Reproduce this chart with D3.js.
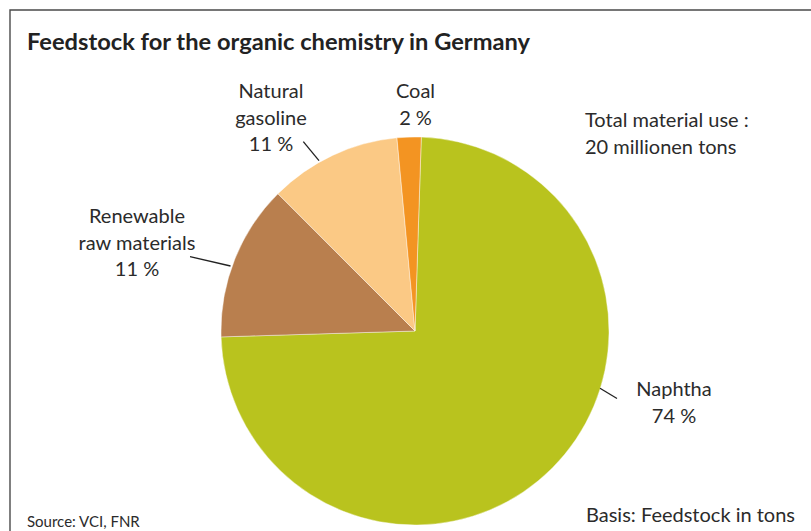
<!DOCTYPE html>
<html><head><meta charset="utf-8">
<script src="https://cdn.jsdelivr.net/npm/d3@7"></script>
<style>html,body{margin:0;padding:0;background:#fff;}svg{display:block;}</style>
</head><body>
<svg id="chart" width="811" height="531"></svg>
<script>
const categories = ["Naphtha", "Renewable raw materials", "Natural gasoline", "Coal"];
const values = [74, 13, 11, 2];
const pctLabels = ["74 %", "11 %", "11 %", "2 %"];
const labelLines = [["Naphtha", "74 %"], ["Renewable", "raw materials", "11 %"], ["Natural", "gasoline", "11 %"], ["Coal", "2 %"]];
const colors = ["#b9c31e", "#b97f4e", "#fbc985", "#f39422"];
const titleText = "Feedstock for the organic chemistry in Germany";
const totalLines = ["Total material use :", "20 millionen tons"];
const sourceText = "Source: VCI, FNR";
const basisText = "Basis: Feedstock in tons";

const svg = d3.select("#chart");
const font = "Lato, 'Open Sans', sans-serif";
const txt = "#2b2b2b";

// frame
svg.append("path").attr("d", "M10,531 V10 H811").attr("fill", "none").attr("stroke", "#4a4a4a").attr("stroke-width", 1.4);

svg.append("text").attr("x", 27).attr("y", 50).attr("font-family", font).attr("font-weight", 700)
  .attr("font-size", 23).attr("fill", "#222").attr("textLength", 503).attr("lengthAdjust", "spacingAndGlyphs").text(titleText);

const cx = 415, cy = 331, r = 194;
const start = 1.86 * Math.PI / 180;
const pie = d3.pie().sort(null).value(d => d).startAngle(start).endAngle(start + 2 * Math.PI);
const arc = d3.arc().innerRadius(0).outerRadius(r);
const g = svg.append("g").attr("transform", `translate(${cx},${cy})`);
g.selectAll("path").data(pie(values)).join("path")
  .attr("d", arc).attr("fill", (d, i) => colors[i])
  .attr("stroke", "#fff").attr("stroke-width", 0.6).attr("stroke-opacity", 0.7);

// labels: [centerX, first baseline]
const labelPos = [[674, 396], [137, 223.3], [271, 98.3], [415.5, 98.3]];
const lh = 26.5;
labelLines.forEach((lines, i) => {
  const t = svg.append("text").attr("font-family", font).attr("font-size", 20).attr("fill", txt).attr("text-anchor", "middle");
  lines.forEach((l, j) => t.append("tspan").attr("x", labelPos[i][0]).attr("y", labelPos[i][1] + j * lh).text(l));
});

// leader lines
const leaders = [[[600, 388.3], [617, 398.5]], [[190, 256.7], [230.5, 266]], [[303.3, 141.7], [319, 160.7]]];
leaders.forEach(p => svg.append("line").attr("x1", p[0][0]).attr("y1", p[0][1]).attr("x2", p[1][0]).attr("y2", p[1][1])
  .attr("stroke", "#222").attr("stroke-width", 1.3));

const tt = svg.append("text").attr("font-family", font).attr("font-size", 20).attr("fill", txt);
totalLines.forEach((l, j) => tt.append("tspan").attr("x", 585).attr("y", 127.3 + j * 26.7).text(l));

svg.append("text").attr("x", 27).attr("y", 527).attr("font-family", font).attr("font-size", 15).attr("fill", txt).text(sourceText);
svg.append("text").attr("x", 586).attr("y", 521.7).attr("font-family", font).attr("font-size", 20).attr("fill", txt).text(basisText);
</script>
</body></html>
